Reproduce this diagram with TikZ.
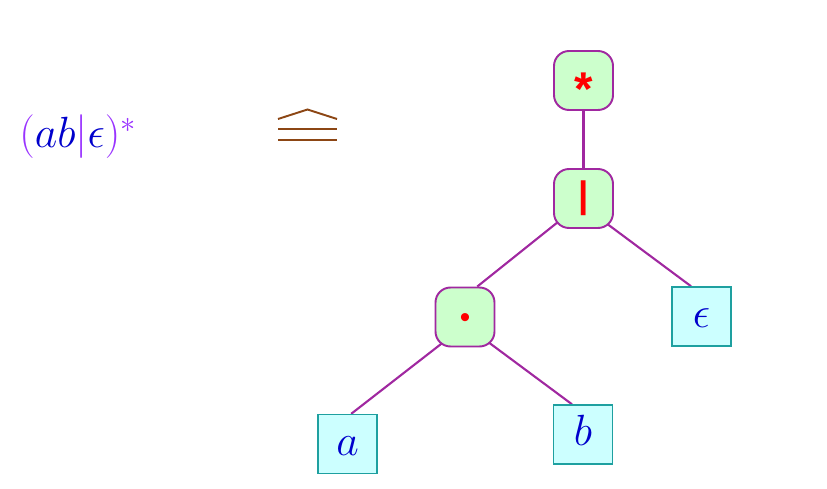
\documentclass[tikz,border=0pt]{standalone}
\usepackage{fontspec}
\newfontfamily\opfont{Liberation Sans}
\usetikzlibrary{backgrounds}
\definecolor{edgec}{RGB}{160,40,160}
\definecolor{opfill}{RGB}{204,255,204}
\definecolor{leaffill}{RGB}{204,255,255}
\definecolor{leafdraw}{RGB}{30,160,160}
\definecolor{letterc}{RGB}{0,0,204}
\definecolor{formc}{RGB}{153,51,255}
\definecolor{hatc}{RGB}{140,70,20}
\definecolor{opred}{RGB}{255,0,0}
\begin{document}
\begin{tikzpicture}[x=0.02cm,y=-0.02cm,
  opnode/.style={draw=edgec, fill=opfill, line width=1.1pt, rounded corners=0.3cm,
    minimum width=1.18cm, minimum height=1.18cm, inner sep=0pt, text=opred},
  leaf/.style={draw=leafdraw, fill=leaffill, line width=0.8pt,
    minimum width=1.18cm, minimum height=1.18cm, inner sep=0pt, text=letterc,
    font=\fontsize{26}{30}\selectfont, text height=12.6pt, text depth=0pt},
  edge/.style={draw=edgec, line width=1.2pt},
  hatline/.style={draw=hatc, line width=1.1pt}]
\useasboundingbox (0,0) rectangle (827,489);

% formula
\node[anchor=base west, inner sep=0pt, font=\fontsize{25}{30}\selectfont] (formula) at (19,148)
  {$\textcolor{formc}{(}\textcolor{letterc}{ab}\textcolor{formc}{|}\textcolor{letterc}{\epsilon}\textcolor{formc}{)}^{\textcolor{formc}{*}}$};

% hat-equal symbol
\coordinate (hl) at (278,119);
\coordinate (ht) at (307.5,109.5);
\coordinate (hr) at (337,119);
\draw[hatline, line join=miter] (hl) -- (ht) -- (hr);
\draw[hatline] (278,129) -- (337,129);
\draw[hatline] (278,140) -- (337,140);

% tree nodes
\node[opnode, font=\opfont\bfseries\fontsize{27}{32}\selectfont, text height=28pt, text depth=0pt] (star) at (583.5,80.5) {*};
\node[opnode, font=\opfont\bfseries\fontsize{21}{24}\selectfont] (alt) at (583.5,198.5) {|};
\node[opnode, font=\opfont\fontsize{17}{20}\selectfont, text height=12.3pt, text depth=0pt] (cat) at (465,317) {•};
\node[leaf] (eps) at (701.5,316.5) {$\epsilon$};
\node[leaf] (la) at (347.5,444) {$a$};
\node[leaf] (lb) at (583,434.5) {$b$};

% edges
\begin{pgfonlayer}{background}
\draw[edge] (star.center) -- (alt.center);
\draw[edge, shorten <=-0.3cm] (alt.222.7) -- (cat.68);
\draw[edge, shorten <=-0.3cm] (alt.-45) -- (eps.109.6);
\draw[edge, shorten <=-0.3cm] (cat.227) -- (la.83);
\draw[edge, shorten <=-0.3cm] (cat.-45) -- (lb.110);
\end{pgfonlayer}
\end{tikzpicture}
\end{document}
